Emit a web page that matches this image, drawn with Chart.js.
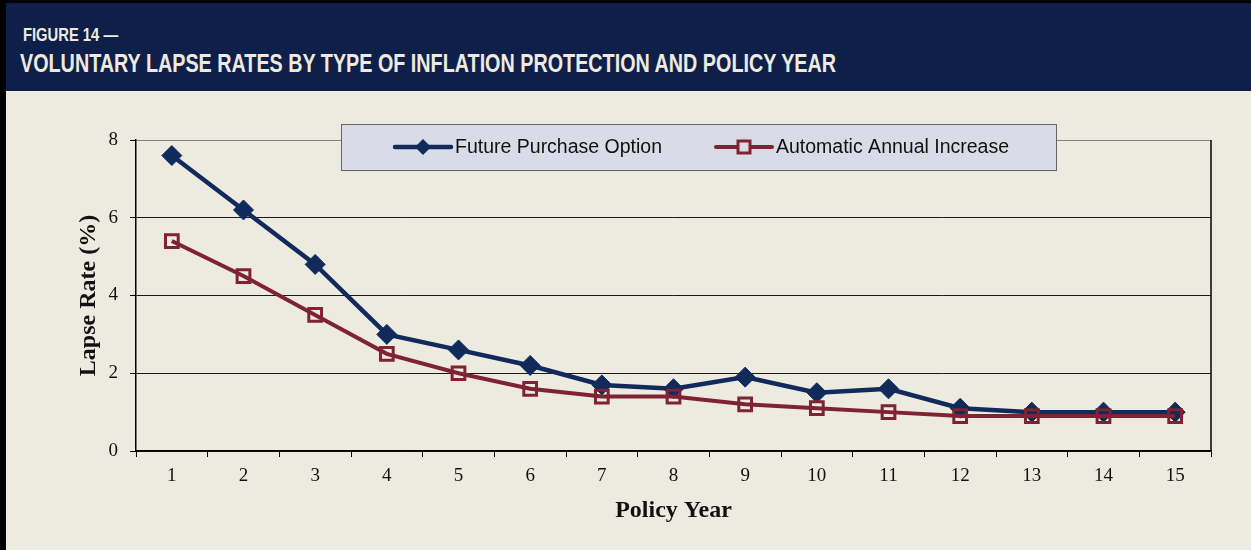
<!DOCTYPE html>
<html lang="en">
<head>
    <meta charset="UTF-8">
    <title>Figure 14 - Voluntary lapse rates</title>
    <script src="https://cdn.jsdelivr.net/npm/chart.js"></script>
    <style>
        html, body { margin: 0; padding: 0; }
        body {
            width: 1251px;
            height: 550px;
            background: #edeae0;
            position: relative;
            overflow: hidden;
            font-family: "Liberation Sans", Arial, sans-serif;
        }
        .frame-top { position: absolute; left: 0; top: 0; width: 1251px; height: 3px; background: #000; }
        .frame-left { position: absolute; left: 0; top: 0; width: 6px; height: 550px; background: #000; }
        .header {
            position: absolute;
            left: 6px; top: 3px;
            width: 1245px; height: 88px;
            background: #0e1f4a;
            color: #eeeadf;
        }
        .fig-no, .fig-title {
            position: absolute;
            font-weight: bold;
            white-space: nowrap;
            transform-origin: left top;
        }
        .fig-no { left: 17px; top: 23px; font-size: 18px; line-height: 18px; transform: scaleX(0.82); }
        .fig-title { left: 14px; top: 47px; font-size: 26px; line-height: 26px; transform: scaleX(0.76); }
        .chart-box {
            position: absolute;
            left: 6px; top: 91px;
            width: 1245px; height: 459px;
        }
    </style>
</head>
<body>
    <div class="frame-top"></div>
    <div class="frame-left"></div>
    <div class="header">
        <div class="fig-no">FIGURE 14 —</div>
        <div class="fig-title">VOLUNTARY LAPSE RATES BY TYPE OF INFLATION PROTECTION AND POLICY YEAR</div>
    </div>
    <div class="chart-box">
        <canvas id="lapse"></canvas>
    </div>

    <script>
        const policyYears = ['1', '2', '3', '4', '5', '6', '7', '8', '9', '10', '11', '12', '13', '14', '15'];
        const futurePurchase = [7.6, 6.2, 4.8, 3.0, 2.6, 2.2, 1.7, 1.6, 1.9, 1.5, 1.6, 1.1, 1.0, 1.0, 1.0];
        const annualIncrease = [5.4, 4.5, 3.5, 2.5, 2.0, 1.6, 1.4, 1.4, 1.2, 1.1, 1.0, 0.9, 0.9, 0.9, 0.9];
        const seriesNames = ['Future Purchase Option', 'Automatic Annual Increase'];
        const yTicks = [0, 2, 4, 6, 8];

        const navy = '#102a5c';
        const maroon = '#7f2231';
        const serif = '"Liberation Serif", "Times New Roman", serif';

        // right-hand frame of the plot area
        const plotFrame = {
            id: 'plotFrame',
            beforeDatasetsDraw(chart) {
                const { ctx, chartArea: a } = chart;
                ctx.save();
                ctx.strokeStyle = '#000';
                ctx.lineWidth = 1.5;
                ctx.beginPath();
                ctx.moveTo(a.right, a.top);
                ctx.lineTo(a.right, a.bottom);
                ctx.stroke();
                ctx.restore();
            }
        };

        // boxed legend that sits over the top of the plot
        const boxLegend = {
            id: 'boxLegend',
            afterDraw(chart) {
                const ctx = chart.ctx;
                const ds = chart.data.datasets;
                ctx.save();
                ctx.fillStyle = '#d9dce6';
                ctx.strokeStyle = '#666';
                ctx.lineWidth = 1;
                ctx.fillRect(335, 33, 715, 46);
                ctx.strokeRect(335.5, 33.5, 715, 46);

                const items = [
                    { ds: ds[1], x: 389 },
                    { ds: ds[0], x: 710 }
                ];
                const y = 56;
                items.forEach(it => {
                    ctx.strokeStyle = it.ds.borderColor;
                    ctx.lineWidth = it.ds.borderWidth;
                    ctx.lineCap = 'round';
                    ctx.beginPath();
                    ctx.moveTo(it.x, y);
                    ctx.lineTo(it.x + 56, y);
                    ctx.stroke();
                    const cx = it.x + 28;
                    if (it.ds.pointStyle === 'rectRot') {
                        ctx.fillStyle = it.ds.borderColor;
                        ctx.beginPath();
                        ctx.moveTo(cx, y - 8);
                        ctx.lineTo(cx + 8, y);
                        ctx.lineTo(cx, y + 8);
                        ctx.lineTo(cx - 8, y);
                        ctx.closePath();
                        ctx.fill();
                    } else {
                        ctx.fillStyle = '#d9dce6';
                        ctx.lineWidth = 3;
                        ctx.fillRect(cx - 6, y - 6, 12, 12);
                        ctx.strokeRect(cx - 6, y - 6, 12, 12);
                    }
                    ctx.fillStyle = '#111';
                    ctx.font = '19.5px "Liberation Sans", Arial, sans-serif';
                    ctx.textBaseline = 'middle';
                    ctx.fillText(it.ds.label, it.x + 60, y + 1);
                });
                ctx.restore();
            }
        };

        new Chart(
            document.getElementById('lapse'),
            {
                type: 'line',
                data: {
                    labels: policyYears,
                    datasets: [
                        {
                            label: seriesNames[1],
                            data: annualIncrease,
                            borderColor: maroon,
                            borderWidth: 4,
                            pointStyle: 'rect',
                            pointRadius: 9,
                            pointBorderWidth: 3,
                            pointBackgroundColor: 'rgba(0,0,0,0)',
                            pointBorderColor: maroon,
                            tension: 0,
                            order: 0
                        },
                        {
                            label: seriesNames[0],
                            data: futurePurchase,
                            borderColor: navy,
                            borderWidth: 4.5,
                            pointStyle: 'rectRot',
                            pointRadius: 10,
                            pointBorderWidth: 1,
                            pointBackgroundColor: navy,
                            pointBorderColor: navy,
                            tension: 0,
                            order: 1
                        }
                    ]
                },
                options: {
                    responsive: true,
                    maintainAspectRatio: false,
                    animation: false,
                    layout: {
                        padding: { left: 68, right: 40, top: 49, bottom: 25 }
                    },
                    plugins: {
                        legend: { display: false },
                        tooltip: { enabled: false }
                    },
                    scales: {
                        x: {
                            offset: true,
                            afterFit: scale => { scale.height = 74; },
                            grid: {
                                offset: true,
                                drawOnChartArea: false,
                                color: '#000',
                                tickLength: 6
                            },
                            border: { color: '#000', width: 1.5 },
                            ticks: {
                                color: '#111',
                                padding: 8,
                                font: { family: serif, size: 19 }
                            },
                            title: {
                                display: true,
                                text: 'Policy Year',
                                color: '#111',
                                padding: 0,
                                font: { family: serif, size: 24, weight: 'bold' }
                            }
                        },
                        y: {
                            min: 0,
                            max: 8,
                            afterFit: scale => { scale.width = 62; },
                            afterBuildTicks: scale => {
                                scale.ticks = yTicks.map(v => ({ value: v }));
                            },
                            grid: {
                                color: ctx => (ctx.tick && ctx.tick.value === 8) ? '#808080' : '#1a1a1a',
                                tickColor: '#000',
                                lineWidth: 1,
                                tickLength: 6
                            },
                            border: { color: '#000', width: 1.5 },
                            ticks: {
                                color: '#111',
                                padding: 12,
                                font: { family: serif, size: 19 }
                            },
                            title: {
                                display: true,
                                text: 'Lapse Rate (%)',
                                color: '#111',
                                padding: 0,
                                font: { family: serif, size: 24, weight: 'bold' }
                            }
                        }
                    }
                },
                plugins: [plotFrame, boxLegend]
            }
        );
    </script>
</body>
</html>
